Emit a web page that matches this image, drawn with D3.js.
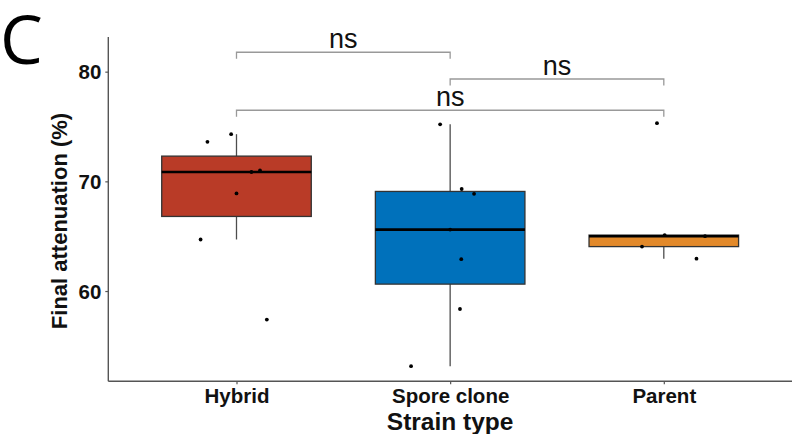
<!DOCTYPE html>
<html>
<head>
<meta charset="utf-8">
<script src="https://cdnjs.cloudflare.com/ajax/libs/d3/7.8.5/d3.min.js"></script>
<style>
    body { margin: 0; background: #fff; }
    svg { display: block; }
</style>
</head>
<body>
<div id="chart"></div>
<script>
// strain groups and the points
const categories = ["Hybrid", "Spore clone", "Parent"];
const fillColors = ["#b93b27", "#0071bb", "#e2892a"];

const hybridValues = [74.3, 73.6, 71.0, 70.85, 68.9, 64.7, 57.4];
const hybridJitter = [-0.025, -0.136, 0.110, 0.070, 0.0, -0.168, 0.142];

const sporeValues = [75.2, 69.3, 68.86, 65.6, 62.9, 58.36, 53.15];
const sporeJitter = [-0.047, 0.054, 0.112, 0.0, 0.052, 0.046, -0.183];

const parentValues = [75.3, 65.1, 65.0, 64.05, 62.95];
const parentJitter = [-0.032, 0.004, 0.193, -0.102, 0.153];

const yTicks = [60, 70, 80];

// pairwise comparisons drawn above the boxes
const comparisons = [
    {from: "Hybrid", to: "Spore clone", label: "ns", y: 81.77},
    {from: "Spore clone", to: "Parent", label: "ns", y: 79.33},
    {from: "Hybrid", to: "Parent", label: "ns", y: 76.48}
];

const groups = [
    {name: categories[0], values: hybridValues, jitter: hybridJitter, color: fillColors[0]},
    {name: categories[1], values: sporeValues, jitter: sporeJitter, color: fillColors[1]},
    {name: categories[2], values: parentValues, jitter: parentJitter, color: fillColors[2]}
];

const width = 794;
const height = 434;
const plotLeft = 108.3;
const plotRight = 792;
const plotTop = 37;
const plotBottom = 381.3;

const svg = d3.select("#chart")
    .append("svg")
    .attr("width", width)
    .attr("height", height);

const x = d3.scalePoint()
    .domain(categories)
    .range([plotLeft, plotRight])
    .padding(0.6);

const y = d3.scaleLinear()
    .domain([51.77, 83.16])
    .range([plotBottom, plotTop]);

const step = x.step();
const boxWidth = step * 0.7;
const font = "'Liberation Sans', Arial, sans-serif";

// box statistics the ggplot way (type 7 quantiles, 1.5 IQR whiskers)
function boxStats(values) {
    const sorted = values.slice().sort(d3.ascending);
    const q1 = d3.quantile(sorted, 0.25);
    const median = d3.quantile(sorted, 0.5);
    const q3 = d3.quantile(sorted, 0.75);
    const iqr = q3 - q1;
    const lo = d3.min(sorted.filter(v => v >= q1 - 1.5 * iqr));
    const hi = d3.max(sorted.filter(v => v <= q3 + 1.5 * iqr));
    return {q1: q1, median: median, q3: q3, lo: lo, hi: hi};
}

// axes
const yAxis = svg.append("g")
    .attr("transform", "translate(" + plotLeft + ",0)")
    .call(d3.axisLeft(y).tickValues(yTicks).tickSize(3).tickPadding(4).tickSizeOuter(0));

const xAxis = svg.append("g")
    .attr("transform", "translate(0," + plotBottom + ")")
    .call(d3.axisBottom(x).tickSize(3).tickPadding(4).tickSizeOuter(0));

[yAxis, xAxis].forEach(function (ax) {
    ax.select(".domain").attr("stroke", "#555").attr("stroke-width", 1.4);
    ax.selectAll(".tick line").attr("stroke", "#555").attr("stroke-width", 1.2);
    ax.selectAll(".tick text")
        .attr("fill", "#111")
        .style("font-family", font)
        .style("font-weight", "bold")
        .style("font-size", "20.5px");
});
// extend the axis lines to meet in the corner
yAxis.select(".domain").attr("d", "M0," + plotTop + "V" + plotBottom);
xAxis.select(".domain").attr("d", "M" + plotLeft + ",0H" + plotRight);

yAxis.selectAll(".tick text").attr("dy", "0.35em");
xAxis.selectAll(".tick text").attr("dy", "0.71em");

// boxes
const box = svg.append("g")
    .selectAll("g")
    .data(groups)
    .enter()
    .append("g")
    .attr("transform", function (d) { return "translate(" + x(d.name) + ",0)"; });

box.each(function (d) {
    const s = boxStats(d.values);
    const g = d3.select(this);

    g.append("line")
        .attr("y1", y(s.hi)).attr("y2", y(s.q3))
        .attr("stroke", "#4d4d4d").attr("stroke-width", 1.3);
    g.append("line")
        .attr("y1", y(s.q1)).attr("y2", y(s.lo))
        .attr("stroke", "#4d4d4d").attr("stroke-width", 1.3);

    g.append("rect")
        .attr("x", -boxWidth / 2)
        .attr("y", y(s.q3))
        .attr("width", boxWidth)
        .attr("height", y(s.q1) - y(s.q3))
        .attr("fill", d.color)
        .attr("stroke", "#333")
        .attr("stroke-width", 1.3);

    g.append("line")
        .attr("x1", -boxWidth / 2).attr("x2", boxWidth / 2)
        .attr("y1", y(s.median)).attr("y2", y(s.median))
        .attr("stroke", "#000").attr("stroke-width", 2.6);
});

// jittered raw points
box.selectAll("circle")
    .data(function (d) { return d.values.map(function (v, i) { return {v: v, j: d.jitter[i]}; }); })
    .enter()
    .append("circle")
    .attr("cx", function (d) { return d.j * step; })
    .attr("cy", function (d) { return y(d.v); })
    .attr("r", 1.9)
    .attr("fill", "#000");

// significance brackets
const tip = 0.6;
const bracket = svg.append("g")
    .selectAll("g")
    .data(comparisons)
    .enter()
    .append("g");

bracket.append("path")
    .attr("d", function (d) {
        const x1 = x(d.from), x2 = x(d.to);
        return "M" + x1 + "," + y(d.y - tip) + "V" + y(d.y) + "H" + x2 + "V" + y(d.y - tip);
    })
    .attr("fill", "none")
    .attr("stroke", "#999")
    .attr("stroke-width", 1.3);

bracket.append("text")
    .attr("x", function (d) { return (x(d.from) + x(d.to)) / 2; })
    .attr("y", function (d) { return y(d.y) - 4; })
    .attr("text-anchor", "middle")
    .style("font-family", font)
    .style("font-size", "27px")
    .attr("fill", "#111")
    .text(function (d) { return d.label; });

// axis titles
svg.append("text")
    .attr("x", (plotLeft + plotRight) / 2)
    .attr("y", 429.5)
    .attr("text-anchor", "middle")
    .style("font-family", font)
    .style("font-weight", "bold")
    .style("font-size", "24.5px")
    .attr("fill", "#111")
    .text("Strain type");

svg.append("text")
    .attr("transform", "translate(67,221) rotate(-90)")
    .attr("text-anchor", "middle")
    .style("font-family", font)
    .style("font-weight", "bold")
    .style("font-size", "22px")
    .attr("fill", "#111")
    .text("Final attenuation (%)");

// panel letter
svg.append("text")
    .attr("x", 0)
    .attr("y", 64)
    .style("font-family", "'Open Sans', 'Noto Sans', sans-serif")
    .style("font-size", "68px")
    .attr("fill", "#000")
    .text("C");
</script>
</body>
</html>
